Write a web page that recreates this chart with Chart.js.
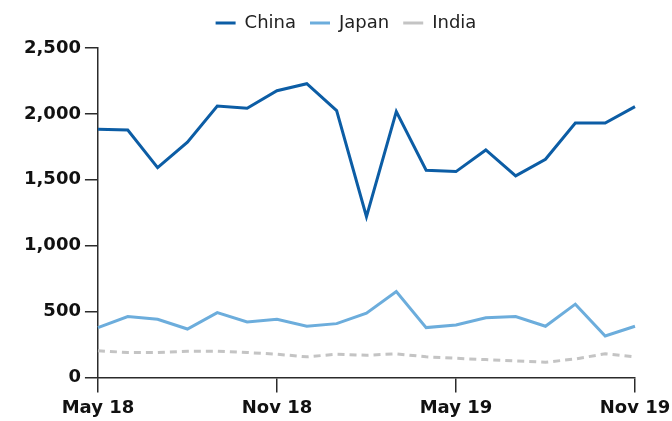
<!DOCTYPE html>
<html>
<head>
<meta charset="utf-8">
<script src="https://cdn.jsdelivr.net/npm/chart.js@4/dist/chart.umd.min.js"></script>
<style>
  html, body { margin: 0; padding: 0; background: #fff; }
  #wrap { width: 672px; height: 421px; }
</style>
</head>
<body>
<div id="wrap"><canvas id="chart" width="672" height="421"></canvas></div>
<script>
// monthly series, May 2018 .. Nov 2019
const months = ['May 18', 'Jun 18', 'Jul 18', 'Aug 18', 'Sep 18', 'Oct 18', 'Nov 18',
    'Dec 18', 'Jan 19', 'Feb 19', 'Mar 19', 'Apr 19', 'May 19', 'Jun 19', 'Jul 19',
    'Aug 19', 'Sep 19', 'Oct 19', 'Nov 19'];
const shownLabels = ['May 18', 'Nov 18', 'May 19', 'Nov 19'];

const china = [1884, 1877, 1592, 1785, 2060, 2043, 2176, 2229, 2025, 1220, 2018,
    1572, 1562, 1726, 1530, 1656, 1930, 1930, 2055];
const japan = [378, 462, 441, 367, 492, 421, 441, 388, 408, 487, 651,
    378, 398, 452, 462, 388, 556, 314, 388];
const india = [202, 189, 189, 199, 199, 189, 176, 156, 176, 168, 179,
    156, 145, 135, 125, 115, 140, 179, 156];

const FONT = 'DejaVu Sans';
const AXIS = '#2b2b2b';

// extra room between the legend and the plot
const legendGap = {
    id: 'legendGap',
    beforeInit(chart) {
        const fit = chart.legend.fit;
        chart.legend.fit = function () {
            fit.bind(chart.legend)();
            this.height += 6;
        };
    }
};

new Chart(document.getElementById('chart').getContext('2d'), {
    type: 'line',
    data: {
        labels: months,
        datasets: [
            { label: 'China', data: china, borderColor: '#0c5da5', borderWidth: 3 },
            { label: 'Japan', data: japan, borderColor: '#6caddc', borderWidth: 3 },
            { label: 'India', data: india, borderColor: '#c4c4c4', borderWidth: 3, borderDash: [7, 5] }
        ]
    },
    plugins: [legendGap],
    options: {
        responsive: false,
        animation: false,
        elements: { point: { radius: 0 }, line: { tension: 0 } },
        layout: { padding: { left: 20, right: 0, top: 0, bottom: -3 } },
        plugins: {
            tooltip: { enabled: false },
            legend: {
                position: 'top',
                labels: {
                    usePointStyle: true,
                    pointStyle: 'line',
                    pointStyleWidth: 20,
                    boxHeight: 3,
                    padding: 14,
                    color: '#222',
                    font: { family: FONT, size: 18 }
                }
            }
        },
        scales: {
            x: {
                offset: false,
                afterFit(scale) {
                    // let the last label hang a bit closer to the edge
                    scale.paddingRight = 37;
                },
                border: { display: true, color: AXIS, width: 1.5 },
                grid: {
                    drawOnChartArea: false,
                    drawTicks: true,
                    tickLength: 15,
                    color: AXIS,
                    lineWidth: 1.5
                },
                ticks: {
                    autoSkip: false,
                    maxRotation: 0,
                    padding: 5,
                    color: '#111',
                    font: { family: FONT, size: 18, weight: 'bold' },
                    callback: function (value) {
                        const lbl = this.getLabelForValue(value);
                        return shownLabels.includes(lbl) ? lbl : null;
                    }
                }
            },
            y: {
                min: 0,
                max: 2500,
                border: { display: true, color: AXIS, width: 1.5 },
                grid: {
                    drawOnChartArea: false,
                    drawTicks: true,
                    tickLength: 13,
                    color: AXIS,
                    lineWidth: 1.5
                },
                ticks: {
                    stepSize: 500,
                    padding: 4,
                    color: '#111',
                    font: { family: FONT, size: 18, weight: 'bold' },
                    callback: v => v.toLocaleString('en-US')
                }
            }
        }
    }
});
</script>
</body>
</html>
